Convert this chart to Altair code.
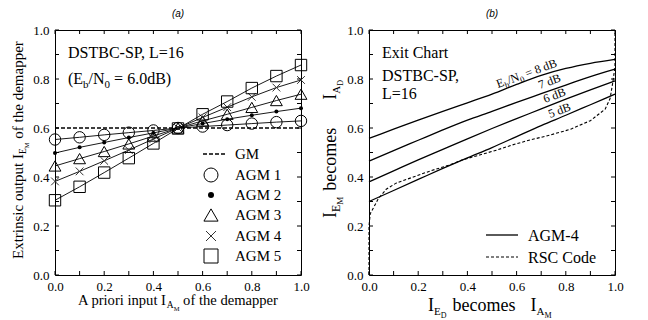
import math
import altair as alt
import pandas as pd

# ---------------- data ----------------
ia_values = [0.0, 0.1, 0.2, 0.3, 0.4, 0.5, 0.6, 0.7, 0.8, 0.9, 1.0]
agm_names = ["AGM 1", "AGM 2", "AGM 3", "AGM 4", "AGM 5"]
agm1 = [0.553, 0.562, 0.572, 0.581, 0.590, 0.600, 0.606, 0.612, 0.618, 0.624, 0.629]
agm2 = [0.498, 0.521, 0.541, 0.561, 0.580, 0.600, 0.618, 0.636, 0.652, 0.667, 0.681]
agm3 = [0.445, 0.475, 0.504, 0.535, 0.567, 0.600, 0.629, 0.656, 0.684, 0.712, 0.738]
agm4 = [0.382, 0.423, 0.466, 0.510, 0.555, 0.600, 0.643, 0.685, 0.727, 0.765, 0.796]
agm5 = [0.305, 0.360, 0.418, 0.477, 0.537, 0.598, 0.656, 0.708, 0.763, 0.812, 0.857]
gm_x = [0.0, 1.0]
gm_y = [0.6, 0.6]

ie_values = [0.0, 0.1, 0.2, 0.3, 0.4, 0.5, 0.6, 0.7, 0.8, 0.9, 1.0]
snr_names = ["8 dB", "7 dB", "6 dB", "5 dB"]
exit_8db = [0.558, 0.595, 0.632, 0.668, 0.703, 0.738, 0.778, 0.815, 0.843, 0.864, 0.880]
exit_7db = [0.465, 0.508, 0.550, 0.592, 0.632, 0.668, 0.705, 0.740, 0.775, 0.810, 0.840]
exit_6db = [0.380, 0.425, 0.470, 0.513, 0.556, 0.598, 0.638, 0.678, 0.718, 0.756, 0.792]
exit_5db = [0.300, 0.345, 0.390, 0.435, 0.478, 0.520, 0.565, 0.610, 0.652, 0.695, 0.738]
rsc_x = [0.0, 0.0, 0.005, 0.016, 0.037, 0.07, 0.11, 0.18, 0.25, 0.33, 0.38, 0.45,
         0.52, 0.58, 0.65, 0.72, 0.82, 0.90, 0.96, 0.98, 0.99, 1.0, 1.0]
rsc_y = [0.0, 0.20, 0.25, 0.27, 0.31, 0.35, 0.375, 0.40, 0.425, 0.45, 0.47, 0.49,
         0.51, 0.53, 0.55, 0.567, 0.595, 0.63, 0.677, 0.72, 0.78, 0.85, 1.0]

tick_values = [0.0, 0.1, 0.2, 0.3, 0.4, 0.5, 0.6, 0.7, 0.8, 0.9, 1.0]
label_values = [0.0, 0.2, 0.4, 0.6, 0.8, 1.0]

# ---------------- style ----------------
W, H = 246, 245
SERIF = "Liberation Serif"
SANS = "Liberation Sans"
X_PATH = "M-1,-1L1,1M1,-1L-1,1"

TIMES_W = {
    " ": .25, "a": .444, "b": .5, "c": .444, "d": .5, "e": .444, "f": .333, "g": .5,
    "h": .5, "i": .278, "j": .278, "k": .5, "l": .278, "m": .778, "n": .5, "o": .5,
    "p": .5, "q": .5, "r": .333, "s": .389, "t": .278, "u": .5, "v": .5, "w": .722,
    "x": .5, "y": .5, "z": .444, "A": .722, "B": .667, "C": .667, "D": .722,
    "E": .611, "F": .556, "G": .722, "H": .722, "I": .333, "J": .389, "K": .722,
    "L": .611, "M": .889, "N": .722, "O": .722, "P": .556, "Q": .722, "R": .667,
    "S": .556, "T": .611, "U": .722, "V": .722, "W": .944, "X": .722, "Y": .722,
    "Z": .611, ".": .25, ",": .25, "=": .564, "-": .333, "/": .278, "(": .333,
    ")": .333,
}
for d in "0123456789":
    TIMES_W[d] = .5


def text_w(s, fs):
    return sum(TIMES_W.get(c, .5) for c in s) * fs


ONE = pd.DataFrame({"k": [0]})


def rich(pieces, x0, y0, angle=0, font=SERIF):
    """pieces: (text, fontsize, baseline shift) or (None, gap_px, 0)"""
    th = math.radians(angle)
    dx, dy = math.cos(th), math.sin(th)
    nx, ny = -math.sin(th), math.cos(th)
    pos = 0.0
    out = []
    for text, fs, shift in pieces:
        if text is None:
            pos += fs
            continue
        lead = len(text) - len(text.lstrip(" "))
        pos += lead * TIMES_W[" "] * fs
        core = text.strip(" ")
        px = x0 + dx * pos + nx * shift
        py = y0 + dy * pos + ny * shift
        out.append(
            alt.Chart(ONE).mark_text(
                text=core, fontSize=fs, font=font, align="left",
                baseline="alphabetic", angle=angle, color="black",
            ).encode(x=alt.value(px), y=alt.value(py))
        )
        pos += text_w(core, fs)
        trail = len(text) - len(text.rstrip(" "))
        pos += trail * TIMES_W[" "] * fs
    return out


def label(text, x, y, fs=16, align="left", font=SERIF, style="normal"):
    return alt.Chart(ONE).mark_text(
        text=text, fontSize=fs, font=font, align=align, baseline="alphabetic",
        color="black", fontStyle=style,
    ).encode(x=alt.value(x), y=alt.value(y))


SCALE = alt.Scale(domain=[0, 1], nice=False, zero=False)
AX_X = alt.Axis(values=label_values, format=".1f", ticks=False, domain=False,
                grid=False, labelFont=SERIF, labelFontSize=13, labelColor="black",
                labelPadding=5, labelFlush=False, title=None)
AX_Y = alt.Axis(values=label_values, format=".1f", ticks=False, domain=False,
                grid=False, labelFont=SERIF, labelFontSize=13, labelColor="black",
                labelPadding=6, labelFlush=False, title=None)


def xq(field):
    return alt.X(field, type="quantitative", scale=SCALE, axis=AX_X)


def yq(field):
    return alt.Y(field, type="quantitative", scale=SCALE, axis=AX_Y)


def tick_layers():
    tdf = pd.DataFrame({"t": tick_values})
    base = alt.Chart(tdf).mark_rule(color="black", strokeWidth=1)
    return [
        base.encode(x=xq("t"), y=alt.value(H), y2=alt.value(H - 4)),
        base.encode(x=xq("t"), y=alt.value(0), y2=alt.value(4)),
        base.encode(y=yq("t"), x=alt.value(0), x2=alt.value(4)),
        base.encode(y=yq("t"), x=alt.value(W), x2=alt.value(W - 4)),
    ]


# ---------------- left panel ----------------
agm_series = [agm1, agm2, agm3, agm4, agm5]
marker_style = [
    dict(shape="circle", filled=False, size=130, stroke="black", strokeWidth=1),
    dict(shape="circle", filled=True, size=16, fill="black", strokeWidth=0),
    dict(shape="triangle-up", filled=False, size=140, stroke="black", strokeWidth=1),
    dict(shape=X_PATH, filled=False, size=60, stroke="#333333", strokeWidth=1),
    dict(shape="square", filled=False, size=130, stroke="black", strokeWidth=1),
]
legend_style = [
    dict(shape="circle", filled=False, size=196, stroke="black", strokeWidth=1),
    dict(shape="circle", filled=True, size=36, fill="black", strokeWidth=0),
    dict(shape="triangle-up", filled=False, size=200, stroke="black", strokeWidth=1),
    dict(shape=X_PATH, filled=False, size=100, stroke="#333333", strokeWidth=1),
    dict(shape="square", filled=False, size=196, stroke="black", strokeWidth=1),
]

left_layers = []
gm_df = pd.DataFrame({"x": gm_x, "y": gm_y})
left_layers.append(
    alt.Chart(gm_df).mark_line(color="black", strokeWidth=1.5, strokeDash=[4, 2])
    .encode(x=xq("x"), y=yq("y"))
)
for name, vals, ms in zip(agm_names, agm_series, marker_style):
    df = pd.DataFrame({"x": ia_values, "y": vals, "s": name})
    left_layers.append(
        alt.Chart(df).mark_line(color="black", strokeWidth=0.9).encode(x=xq("x"), y=yq("y"))
    )
    left_layers.append(
        alt.Chart(df).mark_point(opacity=1, **ms).encode(x=xq("x"), y=yq("y"))
    )
left_layers += tick_layers()

# texts
left_layers.append(label("(a)", 123, -13, fs=10, align="center", font=SANS, style="italic"))
left_layers.append(label("DSTBC-SP, L=16", 13, 28, fs=16))
left_layers += rich([("(E", 16, 0), ("b", 11, 4), ("/N", 16, 0), ("0", 11, 4),
                     (" = 6.0dB)", 16, 0)], 13, 54)
left_layers += rich([("A priori input I", 14.6, 0), ("A", 9.5, 3), ("M", 6.5, 5.5),
                     (" of the demapper", 14.6, 0)], 23, 275)
left_layers += rich([("Extrinsic output I", 15, 0), ("E", 9.5, 3), ("M", 6.5, 5.5),
                     (" of the demapper", 15, 0)], -32, 229, angle=270)

# legend
leg_base = [150, 170, 190, 211, 231]
left_layers.append(
    alt.Chart(ONE).mark_rule(color="black", strokeWidth=1.5, strokeDash=[4, 2])
    .encode(x=alt.value(148), x2=alt.value(171), y=alt.value(124), y2=alt.value(124))
)
left_layers.append(label("GM", 180, 129, fs=15))
for name, yb, ls in zip(agm_names, leg_base, legend_style):
    left_layers.append(
        alt.Chart(ONE).mark_point(opacity=1, **ls)
        .encode(x=alt.value(156), y=alt.value(yb - 5))
    )
    left_layers.append(label(name, 180, yb, fs=15))

left = alt.layer(*left_layers).properties(width=W, height=H)

# ---------------- right panel ----------------
right_layers = []
for name, vals in zip(snr_names, [exit_8db, exit_7db, exit_6db, exit_5db]):
    df = pd.DataFrame({"x": ie_values, "y": vals, "s": name})
    right_layers.append(
        alt.Chart(df).mark_line(color="black", strokeWidth=1.3, interpolate="monotone")
        .encode(x=xq("x"), y=yq("y"))
    )
rsc_df = pd.DataFrame({"x": rsc_x, "y": rsc_y, "o": list(range(len(rsc_x)))})
right_layers.append(
    alt.Chart(rsc_df).mark_line(color="black", strokeWidth=1.1, strokeDash=[3, 2])
    .encode(x=xq("x"), y=yq("y"), order="o:Q")
)
right_layers += tick_layers()

right_layers.append(label("(b)", 123, -13, fs=10, align="center", font=SANS, style="italic"))
right_layers.append(label("Exit Chart", 13, 28, fs=16))
right_layers.append(label("DSTBC-SP,", 13, 51, fs=16))
right_layers.append(label("L=16", 13, 69, fs=16))

# curve labels
right_layers += rich([("E", 12, 0), ("b", 8.5, 3), ("/N", 12, 0), ("0", 8.5, 3),
                      (" = " + snr_names[0], 12, 0)], 129, 58, angle=340)
right_layers += rich([(snr_names[1], 12, 0)], 171, 59, angle=340)
right_layers += rich([(snr_names[2], 12, 0)], 176, 73, angle=340)
right_layers += rich([(snr_names[3], 12, 0)], 181, 88, angle=340)

# axis titles
right_layers += rich([("I", 18, 0), ("E", 11, 3.5), ("D", 8, 6.5), (None, 6, 0),
                      ("becomes", 18, 0), (None, 15, 0),
                      ("I", 18, 0), ("A", 11, 3.5), ("M", 8, 6.5)], 59, 281)
right_layers += rich([("I", 18, 0), ("E", 12, 3.5), ("M", 9, 6.5), (None, 6, 0),
                      ("becomes", 18, 0), (None, 28, 0),
                      ("I", 18, 0), ("A", 11, 3.5), ("D", 8, 6.5)], -33, 188, angle=270)

# legend
right_layers.append(
    alt.Chart(ONE).mark_rule(color="black", strokeWidth=1.3)
    .encode(x=alt.value(117), x2=alt.value(149), y=alt.value(205), y2=alt.value(205))
)
right_layers.append(label("AGM-4", 159, 211, fs=16))
right_layers.append(
    alt.Chart(ONE).mark_rule(color="black", strokeWidth=1.1, strokeDash=[3, 2])
    .encode(x=alt.value(117), x2=alt.value(149), y=alt.value(227), y2=alt.value(227))
)
right_layers.append(label("RSC Code", 159, 233, fs=16))

right = alt.layer(*right_layers).properties(width=W, height=H)

chart = (
    alt.hconcat(left, right, spacing=68, bounds="flush")
    .properties(padding={"left": 2, "top": 0, "right": 2, "bottom": 0})
    .configure_view(stroke="black", strokeWidth=1)
)

chart.save("out.html", embed_options={"renderer": "svg", "actions": False})
